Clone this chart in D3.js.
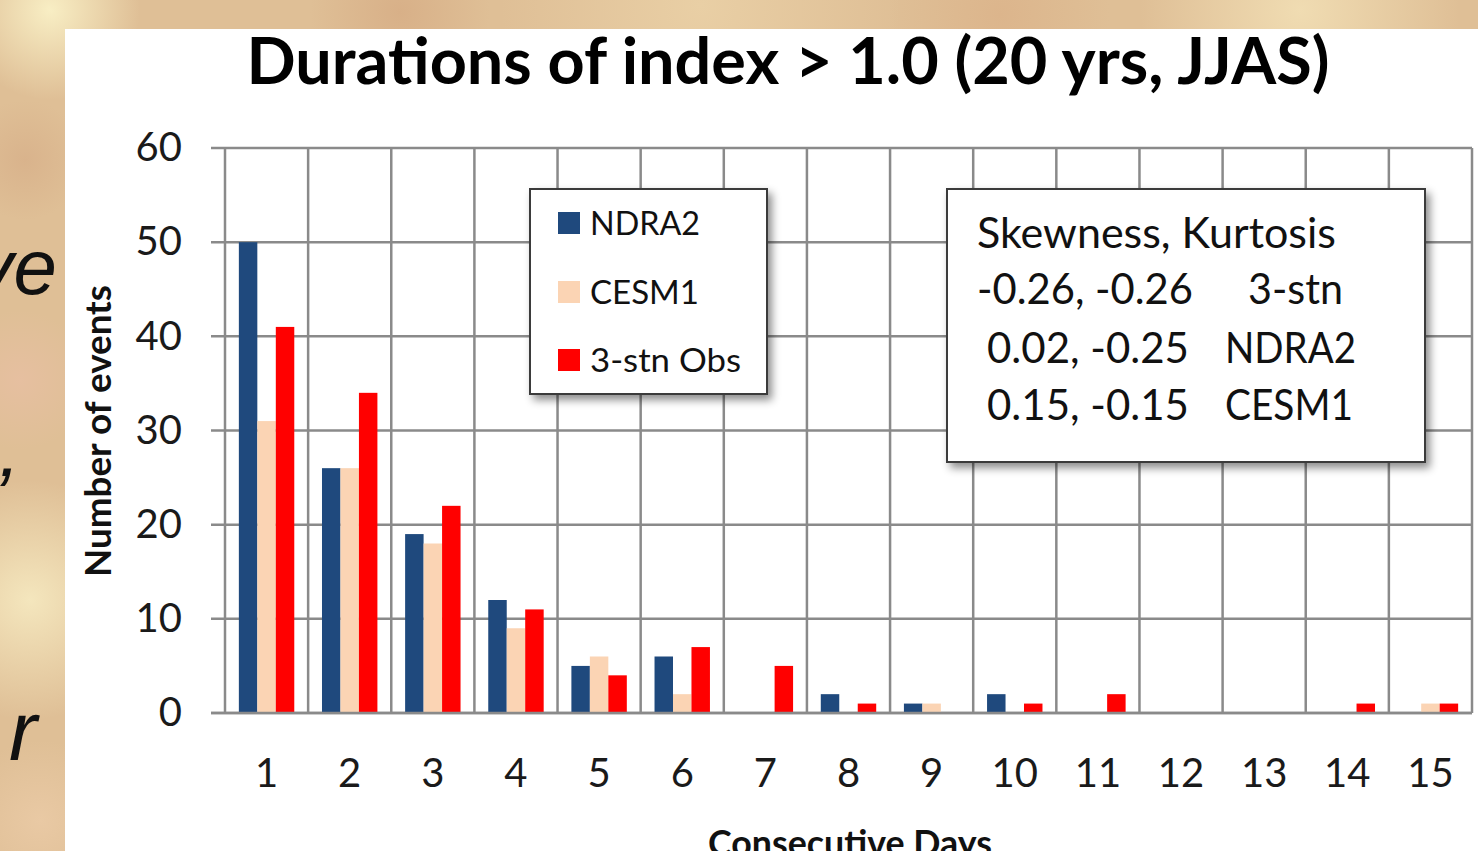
<!DOCTYPE html>
<html>
<head>
<meta charset="utf-8">
<script src="https://cdn.jsdelivr.net/npm/d3@7"></script>
<style>
  html, body { margin: 0; padding: 0; background: #e0c29b; }
  svg { display: block; }
</style>
</head>
<body>
<svg id="chart" width="1478" height="851"></svg>
<script>
// ---- data ----
const categories = ["1","2","3","4","5","6","7","8","9","10","11","12","13","14","15"];
const seriesNames = ["NDRA2", "CESM1", "3-stn Obs"];
const ndra2 = [50, 26, 19, 12, 5, 6, 0, 2, 1, 2, 0, 0, 0, 0, 0];
const cesm1 = [31, 26, 18, 9, 6, 2, 0, 0, 1, 0, 0, 0, 0, 0, 1];
const obs3stn = [41, 34, 22, 11, 4, 7, 5, 1, 0, 1, 2, 0, 0, 1, 1];
const yTicks = [0, 10, 20, 30, 40, 50, 60];
const colors = ["#1f497d", "#fbd4b4", "#ff0000"];
const titleText = "Durations of index > 1.0 (20 yrs, JJAS)";
const xTitle = "Consecutive Days";
const yTitle = "Number of events";
const statsHeader = "Skewness, Kurtosis";
const statsValues = ["-0.26, -0.26", "0.02, -0.25", "0.15, -0.15"];
const statsLabels = ["3-stn", "NDRA2", "CESM1"];

const svg = d3.select("#chart");
const FONT = "Lato, 'Open Sans', sans-serif";

// ---- background (slide texture) ----
const defs = svg.append("defs");
const bgBlobs = [
  {id: "b1", cx: 50, cy: 10, r: 90, c: "#f8eec4"},
  {id: "b2", cx: 30, cy: 600, r: 120, c: "#f4e6bd"},
  {id: "b3", cx: 1300, cy: 10, r: 160, c: "#f0dcb2"},
  {id: "b4", cx: 700, cy: 5, r: 200, c: "#e9cfa5"},
  {id: "b5", cx: 20, cy: 380, r: 70, c: "#e6bfa0"},
  {id: "b6", cx: 40, cy: 820, r: 80, c: "#e9c9a4"},
  {id: "b7", cx: 400, cy: 12, r: 90, c: "#d8b088"},
  {id: "b8", cx: 1000, cy: 15, r: 110, c: "#dcb58c"},
  {id: "b9", cx: 25, cy: 160, r: 60, c: "#d9b38c"}
];
bgBlobs.forEach(b => {
  const g = defs.append("radialGradient").attr("id", b.id);
  g.append("stop").attr("offset", "0%").attr("stop-color", b.c).attr("stop-opacity", 1);
  g.append("stop").attr("offset", "100%").attr("stop-color", b.c).attr("stop-opacity", 0);
});
svg.append("rect").attr("width", 1478).attr("height", 851).attr("fill", "#dfbf96");
bgBlobs.forEach(b => {
  svg.append("circle").attr("cx", b.cx).attr("cy", b.cy).attr("r", b.r).attr("fill", `url(#${b.id})`);
});

// partial slide text at left edge
const slideFont = "'Liberation Sans', Arial, sans-serif";
svg.append("text").attr("x", 57).attr("y", 294).attr("text-anchor", "end")
  .attr("font-family", slideFont).attr("font-style", "italic").attr("font-size", 78)
  .attr("fill", "#111").text("ve");
svg.append("text").attr("x", 10).attr("y", 522).attr("text-anchor", "end")
  .attr("font-family", slideFont).attr("font-style", "italic").attr("font-size", 78)
  .attr("fill", "#111").text("’");
svg.append("text").attr("x", 37).attr("y", 760).attr("text-anchor", "end")
  .attr("font-family", slideFont).attr("font-style", "italic").attr("font-size", 84)
  .attr("fill", "#111").text("r");

// white chart panel
svg.append("rect").attr("x", 65).attr("y", 29).attr("width", 1413).attr("height", 822).attr("fill", "#ffffff");

// shadow filter
const f = defs.append("filter").attr("id", "shadow").attr("x", "-10%").attr("y", "-10%").attr("width", "130%").attr("height", "130%");
f.append("feDropShadow").attr("dx", 4).attr("dy", 5).attr("stdDeviation", 4).attr("flood-color", "#000").attr("flood-opacity", 0.45);

// ---- scales ----
const plot = {left: 225, right: 1472, top: 148, bottom: 713};
const x = d3.scaleBand().domain(categories).range([plot.left, plot.right]).paddingInner(0).paddingOuter(0);
const y = d3.scaleLinear().domain([0, 60]).range([plot.bottom, plot.top]);
const barW = x.bandwidth() / 4.5;
const xs = d3.scaleBand().domain(seriesNames).range([0, barW * 3]);
const groupOffset = (x.bandwidth() - barW * 3) / 2;

const GRID = "#8a8a8a";
const gridW = 2.5;

// horizontal gridlines
svg.append("g").selectAll("line").data(yTicks).join("line")
  .attr("x1", plot.left - 14).attr("x2", plot.right)
  .attr("y1", d => y(d)).attr("y2", d => y(d))
  .attr("stroke", GRID).attr("stroke-width", gridW);

// vertical gridlines at category boundaries
const bounds = categories.map(c => x(c)).concat([x(categories[categories.length - 1]) + x.bandwidth()]);
svg.append("g").selectAll("line").data(bounds).join("line")
  .attr("x1", d => d).attr("x2", d => d)
  .attr("y1", plot.top).attr("y2", plot.bottom)
  .attr("stroke", GRID).attr("stroke-width", gridW);

// ---- axes (labels) ----
const yAxis = d3.axisLeft(y).tickValues(yTicks).tickSize(0).tickPadding(43).tickFormat(d3.format("d"));
const gy = svg.append("g").attr("transform", `translate(${plot.left},0)`).call(yAxis);
gy.select(".domain").remove();
gy.selectAll("text").attr("font-family", FONT).attr("font-size", 40).attr("fill", "#1a1a1a");

const xAxis = d3.axisBottom(x).tickSize(0);
const gx = svg.append("g").attr("transform", `translate(0,${plot.bottom})`).call(xAxis);
gx.select(".domain").remove();
gx.selectAll("text").attr("font-family", FONT).attr("font-size", 40).attr("fill", "#1a1a1a")
  .attr("y", 60).attr("dy", "0.36em");

// ---- bars ----
const rows = categories.map((c, i) => ({cat: c, values: [ndra2[i], cesm1[i], obs3stn[i]]}));
const groups = svg.append("g").selectAll("g").data(rows).join("g")
  .attr("transform", d => `translate(${x(d.cat) + groupOffset},0)`);
groups.selectAll("rect").data(d => d.values.map((v, k) => ({name: seriesNames[k], v, k})))
  .join("rect")
  .attr("x", d => xs(d.name)).attr("width", xs.bandwidth())
  .attr("y", d => y(d.v)).attr("height", d => y(0) - y(d.v))
  .attr("fill", d => colors[d.k]);

// redraw baseline on top
svg.append("line").attr("x1", plot.left - 14).attr("x2", plot.right)
  .attr("y1", y(0)).attr("y2", y(0)).attr("stroke", GRID).attr("stroke-width", gridW);

// ---- helper to fit text to width ----
function fit(sel, target) {
  const w = sel.node().getComputedTextLength();
  const fs = parseFloat(sel.attr("font-size"));
  sel.attr("font-size", fs * target / w);
  return fs * target / w;
}

// ---- title ----
const t = svg.append("text").attr("x", 788).attr("y", 84).attr("text-anchor", "middle")
  .attr("font-family", FONT).attr("font-weight", "bold").attr("font-size", 58).attr("fill", "#000")
  .text(titleText);
fit(t, 1083);

// x title
const xt = svg.append("text").attr("x", 850).attr("text-anchor", "middle")
  .attr("font-family", FONT).attr("font-weight", "bold").attr("font-size", 30).attr("fill", "#111")
  .text(xTitle);
const xfs = fit(xt, 284);
xt.attr("y", 830 + 0.72 * xfs);

// y title
const yt = svg.append("text").attr("transform", "translate(111,431) rotate(-90)").attr("text-anchor", "middle")
  .attr("font-family", FONT).attr("font-weight", "bold").attr("font-size", 30).attr("fill", "#111")
  .text(yTitle);
fit(yt, 292);

// ---- legend ----
const lg = svg.append("g");
lg.append("rect").attr("x", 530).attr("y", 189).attr("width", 237).attr("height", 205)
  .attr("fill", "#fff").attr("stroke", "#3a3a3a").attr("stroke-width", 2).attr("filter", "url(#shadow)");
const legendY = [223, 292, 360];
const legendW = [110, 109, 151];
seriesNames.forEach((s, i) => {
  lg.append("rect").attr("x", 558).attr("y", legendY[i] - 11).attr("width", 22).attr("height", 22).attr("fill", colors[i]);
  const lt = lg.append("text").attr("x", 590).attr("y", legendY[i]).attr("dy", "0.36em")
    .attr("font-family", FONT).attr("font-size", 33).attr("fill", "#111").text(s);
  lt.attr("textLength", legendW[i]).attr("lengthAdjust", "spacingAndGlyphs");
});

// ---- stats box ----
const sb = svg.append("g");
sb.append("rect").attr("x", 947).attr("y", 189).attr("width", 478).attr("height", 273)
  .attr("fill", "#fff").attr("stroke", "#3a3a3a").attr("stroke-width", 2).attr("filter", "url(#shadow)");
const hdr = sb.append("text").attr("x", 977).attr("y", 248)
  .attr("font-family", FONT).attr("font-size", 40).attr("fill", "#111").text(statsHeader);
const sfs = fit(hdr, 359);
const statY = [304, 363, 420];
const valX = [977, 987, 987];
const valW = [216, 202, 202];
const labX = [1248, 1225, 1225];
const labW = [95, 131, 128];
statsValues.forEach((v, i) => {
  sb.append("text").attr("x", valX[i]).attr("y", statY[i])
    .attr("font-family", FONT).attr("font-size", sfs).attr("fill", "#111").text(v)
    .attr("textLength", valW[i]).attr("lengthAdjust", "spacingAndGlyphs");
  sb.append("text").attr("x", labX[i]).attr("y", statY[i])
    .attr("font-family", FONT).attr("font-size", sfs).attr("fill", "#111").text(statsLabels[i])
    .attr("textLength", labW[i]).attr("lengthAdjust", "spacingAndGlyphs");
});
</script>
</body>
</html>
